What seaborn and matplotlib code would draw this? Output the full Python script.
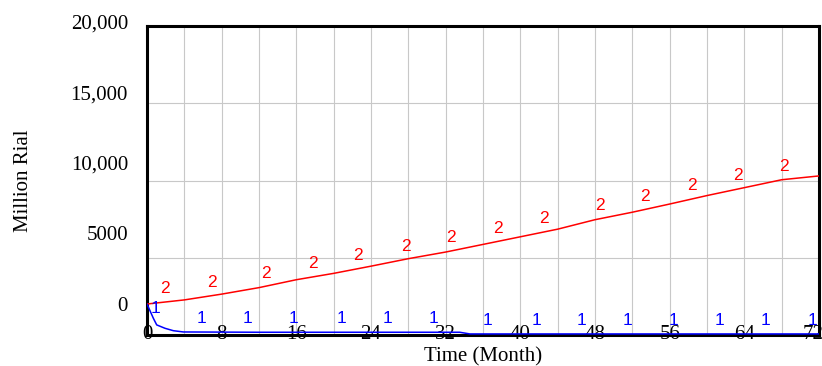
import numpy as np
import pandas as pd
import matplotlib
matplotlib.use("Agg")
import matplotlib.pyplot as plt
import matplotlib.transforms as mtransforms
import seaborn as sns

# Series 2 (red): steady growth over the horizon, Million Rial
months_2 = [0, 4, 8, 12, 16, 20, 24, 28, 32, 36, 40, 44, 48, 52, 56, 60, 64, 68, 72]
series_2 = [0, 290, 700, 1160, 1720, 2170, 2680, 3210, 3680, 4220, 4760,
            5300, 5970, 6500, 7080, 7680, 8240, 8800, 9070]

# Series 1 (blue): quick drop at the start, then nearly flat
months_1 = [0, 0.68, 1.04, 1.93, 2.82, 3.9, 12, 20, 28, 33.5, 34.6, 44, 56, 72]
series_1 = [0, -1010, -1480, -1720, -1890, -1980, -2000, -2000, -2000,
            -2000, -2120, -2120, -2120, -2120]

# Where the series numbers are written along each curve
marker_months_1 = [0.86, 5.86, 10.75, 15.75, 20.86, 25.75, 30.75, 36.46,
                   41.7, 46.6, 51.5, 56.4, 61.3, 66.3, 71.3]
marker_months_2 = [1.93, 7.0, 12.75, 17.75, 22.6, 27.7, 32.6, 37.6, 42.5,
                   48.5, 53.4, 58.4, 63.3, 68.2]

x_ticks = [0, 8, 16, 24, 32, 40, 48, 56, 64, 72]
y_ticks = [0, 5000, 10000, 15000]
y_tick_labels = ["0", "5000", "10,000", "15,000"]
y_top_label = "20,000"
y_top_value = 20000

x_label = "Time (Month)"
y_label = "Million Rial"

sns.set_theme(style="white")
plt.rcParams["font.family"] = ["Liberation Serif", "DejaVu Serif"]

fig = plt.figure(figsize=(8.22, 3.66), dpi=100)
ax = fig.add_axes([147 / 822, 1 - 335 / 366, 672 / 822, 309 / 366])

df1 = pd.DataFrame({"month": months_1, "value": series_1})
df2 = pd.DataFrame({"month": months_2, "value": series_2})
sns.lineplot(data=df2, x="month", y="value", ax=ax, color="#ff0000",
             linewidth=1.1, zorder=3)
sns.lineplot(data=df1, x="month", y="value", ax=ax, color="#0000ff",
             linewidth=1.1, zorder=3)

y_lo, y_hi = -2195, 19688
ax.set_xlim(0, 72)
ax.set_ylim(y_lo, y_hi)

# Series numbers above the curves
lbl_font = dict(family=["Liberation Sans", "DejaVu Sans"], fontsize=12.5)
for m in marker_months_1:
    v = np.interp(m, months_1, series_1)
    ax.annotate("1", (m, v), xytext=(0, 9.6), textcoords="offset points",
                ha="center", va="center", color="#0000ff", zorder=4,
                annotation_clip=False, **lbl_font)
for m in marker_months_2:
    v = np.interp(m, months_2, series_2)
    ax.annotate("2", (m, v), xytext=(0, 9.4), textcoords="offset points",
                ha="center", va="center", color="#ff0000", zorder=4,
                annotation_clip=False, **lbl_font)

# Ticks and grid
ax.set_xticks(x_ticks)
ax.set_xticks(np.arange(4, 72, 8), minor=True)
ax.set_yticks(y_ticks)
ax.set_yticklabels(y_tick_labels)
ax.set_yticks(np.linspace(y_lo, y_hi, 5)[1:-1], minor=True)
ax.grid(False)
ax.xaxis.grid(True, which="both", color="#c8c8c8", linewidth=0.8)
ax.yaxis.grid(True, which="minor", color="#c8c8c8", linewidth=0.8)
ax.set_axisbelow(True)

ax.tick_params(axis="x", which="both", length=0, pad=-7, labelsize=15,
               labelcolor="black")
ax.tick_params(axis="y", which="both", length=0, pad=13.7, labelsize=15,
               labelcolor="black")

# Keep the last time label inside the figure
fig.canvas.draw()
last = ax.get_xticklabels()[-1]
last.set_horizontalalignment("right")
last.set_transform(last.get_transform() +
                   mtransforms.ScaledTranslation(3 / 72, 0, fig.dpi_scale_trans))

ax.text(-19 / 672, y_top_value, y_top_label, transform=ax.get_yaxis_transform(),
        ha="right", va="center_baseline", fontsize=15, color="black",
        clip_on=False)

for s in ax.spines.values():
    s.set_visible(True)
    s.set_color("black")
    s.set_linewidth(2.2)

ax.set_xlabel(x_label, fontsize=15, color="black")
ax.set_ylabel(y_label, fontsize=15, color="black")
ax.xaxis.set_label_coords(0.5, -0.04)
ax.yaxis.set_label_coords(-0.1696, 0.5)

fig.savefig("out.png", dpi=100)
